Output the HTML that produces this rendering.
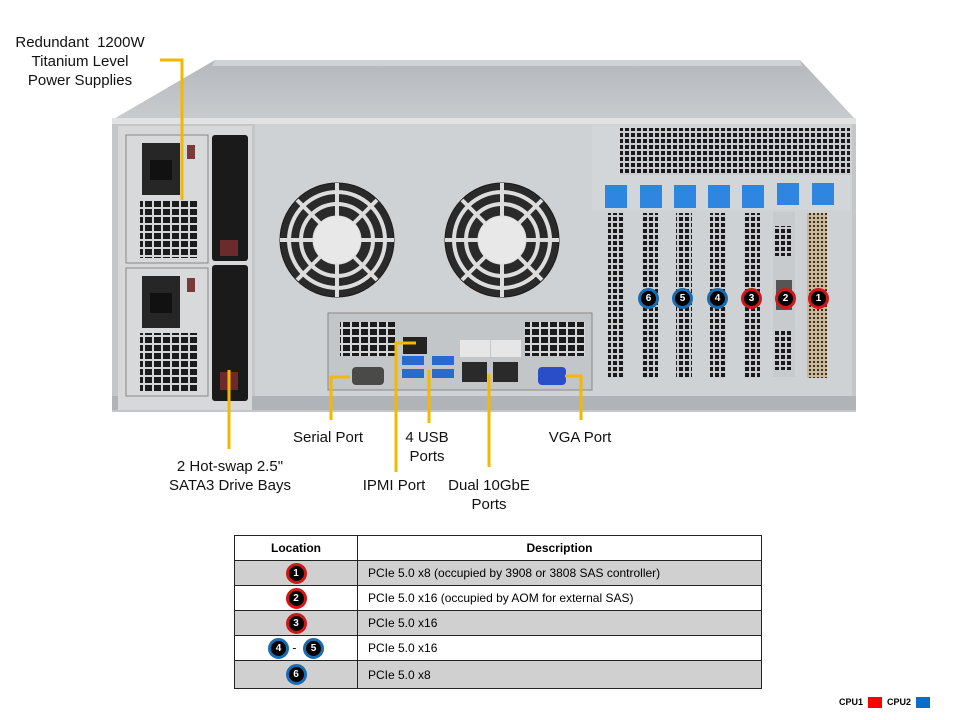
<!DOCTYPE html>
<html><head><meta charset="utf-8"><style>
body{margin:0;background:#fff;width:960px;height:720px;overflow:hidden;position:relative;font-family:"Liberation Sans",Arial,sans-serif}
.t{position:absolute;font-size:15px;color:#111;text-align:center;line-height:19px;white-space:nowrap}
table{position:absolute;left:234px;top:535px;width:528px;border-collapse:collapse;font-size:12px}
td{border:1px solid #222;height:24px;padding:0}
td.l{width:122px;text-align:center}
td.d{padding-left:10px}
tr.g td{background:#d0d0d0}
.b{display:inline-block;width:15px;height:15px;border-radius:50%;background:#000;color:#fff;font-weight:bold;font-size:10px;line-height:15px;text-align:center;vertical-align:middle}
.r{border:3px solid #d01818}.u{border:3px solid #1a6cb0}
</style></head><body>
<svg width="960" height="720" style="position:absolute;left:0;top:0">
<defs>
<pattern id="v" width="6" height="6" patternUnits="userSpaceOnUse"><rect width="6" height="6" fill="#c8ccd0"/><rect x="1" y="1" width="4" height="4" fill="#1a1a1a"/></pattern>
<pattern id="v2" width="9" height="8" patternUnits="userSpaceOnUse"><rect width="9" height="8" fill="#d4d7da"/><rect x="1" y="1" width="7" height="6" fill="#1c1c1c"/></pattern>
<pattern id="vb" width="4" height="4" patternUnits="userSpaceOnUse"><rect width="4" height="4" fill="#c9b89a"/><rect x="1" y="1" width="2" height="2" fill="#3a3020"/></pattern>
<linearGradient id="lg" x1="0" y1="0" x2="0" y2="1"><stop offset="0" stop-color="#b4b7bb"/><stop offset="1" stop-color="#c9cccf"/></linearGradient>
</defs>
<!-- lid -->
<polygon points="215,60 800,60 856,120 112,120" fill="url(#lg)"/>
<polygon points="215,60 800,60 802,66 212,66" fill="#d0d3d6"/>
<!-- body -->
<rect x="112" y="118" width="744" height="294" fill="#c4c7ca"/>
<rect x="112" y="118" width="744" height="6" fill="#e0e2e4"/>
<rect x="255" y="124" width="597" height="272" fill="#cfd2d5"/>
<rect x="112" y="396" width="744" height="14" fill="#b0b4b8"/>
<rect x="118" y="126" width="134" height="284" fill="#d6d8da"/>
<!-- PSUs -->
<g>
<rect x="126" y="135" width="82" height="128" fill="#d8d9db" stroke="#888"/>
<rect x="142" y="143" width="38" height="52" fill="#262626"/>
<rect x="150" y="160" width="22" height="20" fill="#111"/>
<rect x="140" y="200" width="58" height="58" fill="url(#v2)"/>
<rect x="126" y="268" width="82" height="128" fill="#d8d9db" stroke="#888"/>
<rect x="142" y="276" width="38" height="52" fill="#262626"/>
<rect x="150" y="293" width="22" height="20" fill="#111"/>
<rect x="140" y="333" width="58" height="58" fill="url(#v2)"/>
<rect x="187" y="145" width="8" height="14" fill="#7a3a3a"/>
<rect x="187" y="278" width="8" height="14" fill="#7a3a3a"/>
</g>
<!-- drive bays -->
<rect x="212" y="135" width="36" height="126" rx="3" fill="#1a1a1a"/>
<rect x="212" y="265" width="36" height="136" rx="3" fill="#1a1a1a"/>
<rect x="220" y="240" width="18" height="16" fill="#6b2a2c"/>
<rect x="220" y="372" width="18" height="18" fill="#6b2a2c"/>
<!-- fans -->
<g fill="none" stroke="#1a1a1a">
<circle cx="337" cy="240" r="57" fill="#2a2a2a"/>
<circle cx="337" cy="240" r="48" stroke="#ddd" stroke-width="4"/>
<circle cx="337" cy="240" r="36" stroke="#ddd" stroke-width="4"/>
<circle cx="337" cy="240" r="24" fill="#e8e8e8" stroke="#ddd"/>
<circle cx="502" cy="240" r="57" fill="#2a2a2a"/>
<circle cx="502" cy="240" r="48" stroke="#ddd" stroke-width="4"/>
<circle cx="502" cy="240" r="36" stroke="#ddd" stroke-width="4"/>
<circle cx="502" cy="240" r="24" fill="#e8e8e8" stroke="#ddd"/>
</g>
<g stroke="#ddd" stroke-width="4">
<line x1="337" y1="183" x2="337" y2="216"/><line x1="337" y1="264" x2="337" y2="297"/><line x1="280" y1="240" x2="313" y2="240"/><line x1="361" y1="240" x2="394" y2="240"/>
<line x1="297" y1="200" x2="320" y2="223"/><line x1="354" y1="257" x2="377" y2="280"/><line x1="377" y1="200" x2="354" y2="223"/><line x1="320" y1="257" x2="297" y2="280"/>
<line x1="502" y1="183" x2="502" y2="216"/><line x1="502" y1="264" x2="502" y2="297"/><line x1="445" y1="240" x2="478" y2="240"/><line x1="526" y1="240" x2="559" y2="240"/>
<line x1="462" y1="200" x2="485" y2="223"/><line x1="519" y1="257" x2="542" y2="280"/><line x1="542" y1="200" x2="519" y2="223"/><line x1="485" y1="257" x2="462" y2="280"/>
</g>
<!-- IO shield -->
<rect x="328" y="313" width="264" height="77" fill="#c3c6c9" stroke="#888"/>
<rect x="340" y="322" width="55" height="34" fill="url(#v2)"/>
<rect x="525" y="322" width="60" height="34" fill="url(#v2)"/>
<rect x="403" y="337" width="24" height="17" fill="#222"/>
<rect x="402" y="356" width="22" height="9" fill="#2a6ad0"/><rect x="402" y="369" width="22" height="9" fill="#2a6ad0"/>
<rect x="432" y="356" width="22" height="9" fill="#2a6ad0"/><rect x="432" y="369" width="22" height="9" fill="#2a6ad0"/>
<rect x="460" y="340" width="30" height="17" fill="#e6e6e6"/><rect x="491" y="340" width="30" height="17" fill="#e6e6e6"/>
<rect x="462" y="362" width="25" height="20" fill="#2a2a2a"/><rect x="493" y="362" width="25" height="20" fill="#2a2a2a"/>
<rect x="352" y="367" width="32" height="18" rx="4" fill="#4a4a48"/>
<rect x="538" y="367" width="28" height="18" rx="4" fill="#2a4ec8"/>
<!-- PCIe area -->
<rect x="592" y="126" width="258" height="84" fill="#d3d6d9"/>
<rect x="620" y="128" width="230" height="47" fill="url(#v)"/>
<g fill="#2f86e0">
<rect x="605" y="185" width="22" height="23"/><rect x="640" y="185" width="22" height="23"/><rect x="674" y="185" width="22" height="23"/><rect x="708" y="185" width="22" height="23"/><rect x="742" y="185" width="22" height="23"/><rect x="777" y="183" width="22" height="22"/><rect x="812" y="183" width="22" height="22"/>
</g>
<rect x="608" y="213" width="16" height="165" fill="url(#v)"/>
<rect x="642" y="213" width="16" height="165" fill="url(#v)"/>
<rect x="676" y="213" width="16" height="165" fill="url(#v)"/>
<rect x="710" y="213" width="16" height="165" fill="url(#v)"/>
<rect x="744" y="213" width="16" height="165" fill="url(#v)"/>
<rect x="773" y="212" width="22" height="165" fill="#c8cbce"/>
<rect x="775" y="226" width="18" height="30" fill="url(#v)"/><rect x="776" y="280" width="16" height="30" fill="#555"/><rect x="775" y="330" width="18" height="40" fill="url(#v)"/>
<rect x="807" y="213" width="20" height="165" fill="url(#vb)"/>
<!-- leaders -->
<g stroke="#f5b800" stroke-width="3" fill="none">
<polyline points="160,60 182,60 182,200"/>
<line x1="229" y1="370" x2="229" y2="449"/>
<polyline points="350,377 331,377 331,420"/>
<polyline points="416,343 396,343 396,472"/>
<line x1="429" y1="370" x2="429" y2="423"/>
<line x1="489" y1="374" x2="489" y2="467"/>
<polyline points="565,376 581,376 581,420"/>
</g>
</svg>
<div class="t" style="left:10px;top:33px;width:140px">Redundant&nbsp; 1200W<br>Titanium Level<br>Power Supplies</div>
<div class="t" style="left:150px;top:457px;width:160px">2 Hot-swap 2.5"<br>SATA3 Drive Bays</div>
<div class="t" style="left:278px;top:428px;width:100px">Serial Port</div>
<div class="t" style="left:377px;top:428px;width:100px">4 USB<br>Ports</div>
<div class="t" style="left:344px;top:476px;width:100px">IPMI Port</div>
<div class="t" style="left:429px;top:476px;width:120px">Dual 10GbE<br>Ports</div>
<div class="t" style="left:530px;top:428px;width:100px">VGA Port</div>
<div style="position:absolute;top:288px;left:638px;width:200px;height:20px">
<span class="b u" style="position:absolute;left:0">6</span><span class="b u" style="position:absolute;left:34px">5</span><span class="b u" style="position:absolute;left:69px">4</span><span class="b r" style="position:absolute;left:103px">3</span><span class="b r" style="position:absolute;left:137px">2</span><span class="b r" style="position:absolute;left:170px">1</span>
</div>
<table>
<tr><td class="l"><b>Location</b></td><td style="text-align:center"><b>Description</b></td></tr>
<tr class="g"><td class="l"><span class="b r">1</span></td><td class="d">PCIe 5.0 x8 (occupied by 3908 or 3808 SAS controller)</td></tr>
<tr><td class="l"><span class="b r">2</span></td><td class="d">PCIe 5.0 x16 (occupied by AOM for external SAS)</td></tr>
<tr class="g"><td class="l"><span class="b r">3</span></td><td class="d">PCIe 5.0 x16</td></tr>
<tr><td class="l"><span class="b u">4</span> - &nbsp;<span class="b u">5</span></td><td class="d">PCIe 5.0 x16</td></tr>
<tr class="g"><td class="l" style="height:27px"><span class="b u">6</span></td><td class="d">PCIe 5.0 x8</td></tr>
</table>
<div style="position:absolute;left:839px;top:697px;font-size:9px;font-weight:bold">CPU1</div>
<div style="position:absolute;left:868px;top:697px;width:14px;height:11px;background:#f00"></div>
<div style="position:absolute;left:887px;top:697px;font-size:9px;font-weight:bold">CPU2</div>
<div style="position:absolute;left:916px;top:697px;width:14px;height:11px;background:#0a6cc4"></div>
</body></html>
